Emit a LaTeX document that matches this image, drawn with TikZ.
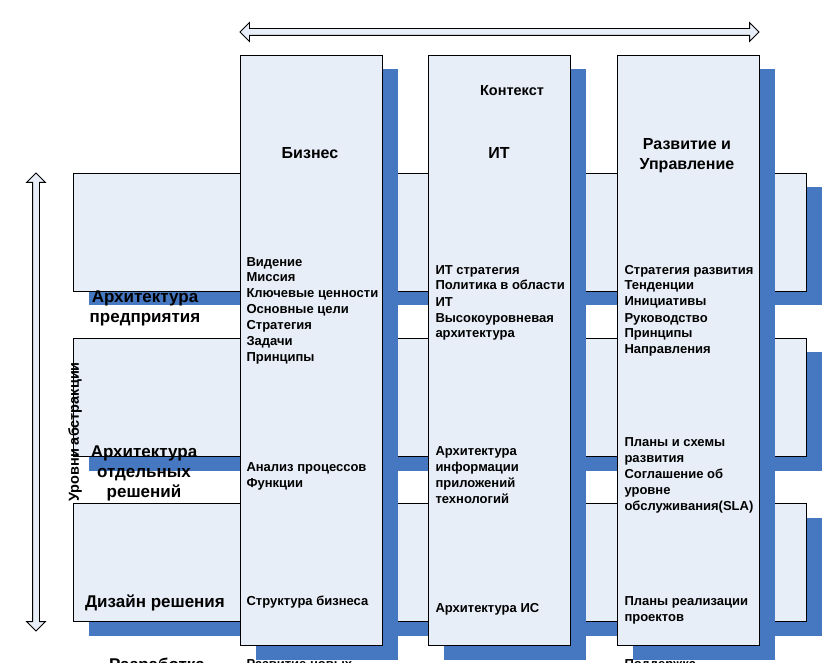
\documentclass[tikz,border=0pt]{standalone}
\usepackage{fontspec}
\setmainfont{Liberation Sans}
\usepackage{xcolor}
\usetikzlibrary{positioning,shapes,shadows}
\definecolor{boxfill}{RGB}{232,238,247}
\definecolor{shadowblue}{RGB}{70,120,194}

\begin{document}
\begin{tikzpicture}[x=1pt,y=-1pt,line width=1pt,
    blue shadow/.style={drop shadow={shadow xshift=15pt,shadow yshift=-14pt,fill=shadowblue,opacity=1}},
    level box/.style={draw,fill=boxfill,blue shadow,anchor=north west,inner sep=0pt,minimum width=733pt,minimum height=118pt},
    view box/.style={draw,fill=boxfill,blue shadow,anchor=north west,inner sep=0pt,minimum width=142pt,minimum height=590pt},
    head/.style={font=\fontsize{16}{20}\selectfont\bfseries,align=center,inner sep=0pt,anchor=base},
    level label/.style={font=\fontsize{17}{20}\selectfont\bfseries,align=center,inner sep=0pt,anchor=base},
    item/.style={font=\fontsize{13}{16}\selectfont\bfseries,align=left,inner sep=0pt,anchor=base west},
    scale arrow/.style={double arrow,draw,fill=boxfill,line width=0.8pt,inner sep=3pt,
      double arrow head extend=6pt,double arrow head indent=0pt,minimum width=18pt}]

  \useasboundingbox (0,0) rectangle (823,663);
  \clip (0,0) rectangle (823,663);

  % levels of abstraction
  \node[level box] (enterprise) at (73,173) {};
  \node[level box] (solution) at (73,338) {};
  \node[level box] (design) at (73,503) {};

  % views
  \node[view box] (business) at (240,55) {};
  \node[view box] (it) at (428,55) {};
  \node[view box] (governance) at (617,55) {};

  % scales
  \node[scale arrow,minimum height=519pt] (context) at (499.5,32) {};
  \node[scale arrow,minimum height=458pt,rotate=90] (abstraction) at (36,402) {};
  \node[font=\fontsize{14.5}{16}\selectfont\bfseries,rotate=90,inner sep=0pt] (abstraction label) at (75,432) {Уровни абстракции};

  % headings (base = last line)
  \node[head] (business head) at (310,159) {Бизнес};
  \node[head] (it head) at (499,159) {ИТ};
  \node[head,font=\fontsize{14.5}{16}\selectfont\bfseries] (context head) at (512,96) {Контекст};
  \node[head] (governance head) at (687,169.5) {Развитие и\\Управление};

  % level labels
  \node[level label] (enterprise label) at (145,323) {Архитектура\\предприятия};
  \node[level label] (solution label) at (144,497) {Архитектура\\отдельных\\решений};
  \node[level label] (design label) at (155,607) {Дизайн решения};
  \node[level label] (development label) at (157,670) {Разработка};

  % business
  \node[item] (b1) at (246,362) {Видение\\Миссия\\Ключевые ценности\\Основные цели\\Стратегия\\Задачи\\Принципы};
  \node[item] (b2) at (246,487) {Анализ процессов\\Функции};
  \node[item] (b3) at (246,605) {Структура бизнеса};
  \node[item] (b4) at (246,668) {Развитие новых};

  % it
  \node[item] (i1) at (435,338) {ИТ стратегия\\Политика в области\\ИТ\\Высокоуровневая\\архитектура};
  \node[item] (i2) at (435,503) {Архитектура\\информации\\приложений\\технологий};
  \node[item] (i3) at (435,612) {Архитектура ИС};

  % governance
  \node[item] (g1) at (624,354) {Стратегия развития\\Тенденции\\Инициативы\\Руководство\\Принципы\\Направления};
  \node[item] (g2) at (624,510) {Планы и схемы\\развития\\Соглашение об\\уровне\\обслуживания(SLA)};
  \node[item] (g3) at (624,621) {Планы реализации\\проектов};
  \node[item] (g4) at (624,668) {Поддержка};
\end{tikzpicture}
\end{document}
